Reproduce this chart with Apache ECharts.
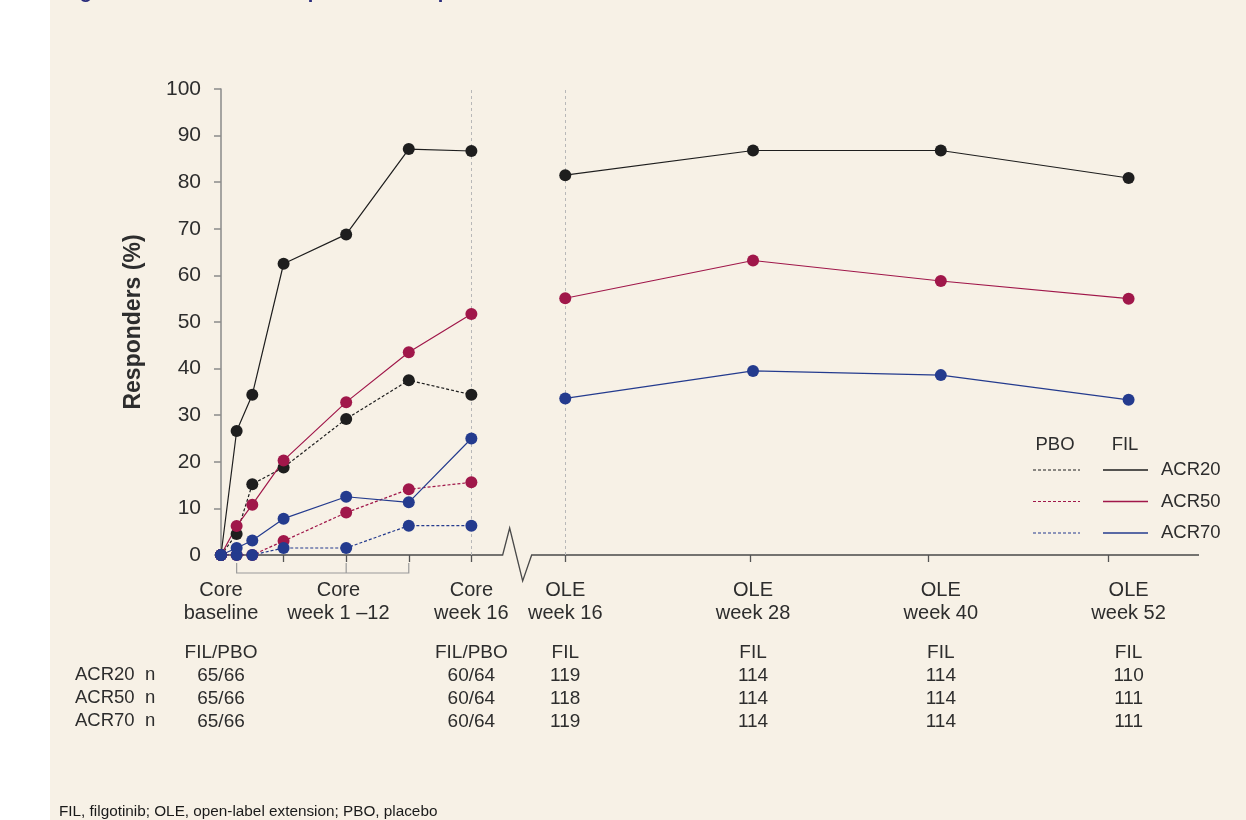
<!DOCTYPE html>
<html>
<head>
<meta charset="utf-8">
<script src="https://cdn.jsdelivr.net/npm/echarts@6/dist/echarts.min.js"></script>
<style>
  html, body { margin: 0; padding: 0; background: #fff; }
  #main { width: 1246px; height: 820px; }
</style>
</head>
<body>
<div id="main"></div>
<script>
// time points (weeks); OLE weeks are drawn shifted right of the core period
var coreWeeks = [0, 1, 2, 4, 8, 12, 16];
var oleWeeks = [16, 28, 40, 52];
var oleShift = 6;

var filAcr20Core = [0, 26.6, 34.4, 62.5, 68.8, 87.1, 86.7];
var filAcr50Core = [0, 6.2, 10.8, 20.3, 32.8, 43.5, 51.7];
var filAcr70Core = [0, 1.5, 3.1, 7.8, 12.5, 11.3, 25.0];
var pboAcr20Core = [0, 4.5, 15.2, 18.8, 29.2, 37.5, 34.4];
var pboAcr50Core = [0, 0, 0, 3.0, 9.1, 14.1, 15.6];
var pboAcr70Core = [0, 0, 0, 1.5, 1.5, 6.3, 6.3];

var filAcr20Ole = [81.5, 86.8, 86.8, 80.9];
var filAcr50Ole = [55.1, 63.2, 58.8, 55.0];
var filAcr70Ole = [33.6, 39.5, 38.6, 33.3];

// x-axis labels and the n table under them
var labelPos = [0, 7.5, 16, 22, 34, 46, 58];
var labelTop = ['Core', 'Core', 'Core', 'OLE', 'OLE', 'OLE', 'OLE'];
var labelBottom = ['baseline', 'week 1 \u201312', 'week 16', 'week 16', 'week 28', 'week 40', 'week 52'];
var nHeader = ['FIL/PBO', '', 'FIL/PBO', 'FIL', 'FIL', 'FIL', 'FIL'];
var nAcr20 = ['65/66', '', '60/64', '119', '114', '114', '110'];
var nAcr50 = ['65/66', '', '60/64', '118', '114', '114', '111'];
var nAcr70 = ['65/66', '', '60/64', '119', '114', '114', '111'];
var tickPos = [4, 8, 12, 16, 22, 33.8, 45.2, 56.7];

var BLACK = '#1e1e1e', RED = '#a0174a', BLUE = '#243b8e';
var TXT = '#2d2d2d';
var FONT = '"Liberation Sans", Arial, sans-serif';

function corePairs(vals) {
  return coreWeeks.map(function (w, i) { return [w, vals[i]]; });
}
function filPairs(core, ole) {
  var d = corePairs(core);
  d.push([16.5, null]);
  oleWeeks.forEach(function (w, i) { d.push([w + oleShift, ole[i]]); });
  return d;
}
function mk(name, data, color, dashed) {
  return {
    name: name, type: 'line', data: data, z: 3,
    symbol: 'circle', symbolSize: 12, connectNulls: false,
    lineStyle: { color: color, width: 1.2, type: dashed ? [3, 2] : 'solid' },
    itemStyle: { color: color },
    emphasis: { disabled: true }, animation: false
  };
}

var el = document.getElementById('main');
var myChart = echarts.init(el);

var series = [
  {
    type: 'line', data: [], z: 1, silent: true,
    markLine: {
      silent: true, symbol: 'none', animation: false, z: 1,
      label: { show: false },
      lineStyle: { color: '#b8b8b8', width: 1, type: [3, 3] },
      data: [{ xAxis: 16 }, { xAxis: 16 + oleShift }]
    }
  },
  mk('PBO ACR20', corePairs(pboAcr20Core), BLACK, true),
  mk('FIL ACR20', filPairs(filAcr20Core, filAcr20Ole), BLACK, false),
  mk('PBO ACR50', corePairs(pboAcr50Core), RED, true),
  mk('FIL ACR50', filPairs(filAcr50Core, filAcr50Ole), RED, false),
  mk('PBO ACR70', corePairs(pboAcr70Core), BLUE, true),
  mk('FIL ACR70', filPairs(filAcr70Core, filAcr70Ole), BLUE, false)
];

myChart.setOption({
  backgroundColor: '#f7f1e6',
  animation: false,
  grid: { left: 221, right: 47, top: 89, bottom: 265 },
  xAxis: {
    type: 'value', min: 0, max: 62.5,
    splitLine: { show: false },
    axisLine: { show: false },
    axisTick: { show: true, customValues: tickPos, length: 7, lineStyle: { color: '#555', width: 1.3 } },
    axisLabel: {
      customValues: labelPos, margin: 24, color: TXT,
      fontFamily: FONT, fontSize: 20, lineHeight: 23,
      formatter: function (v) {
        var i = labelPos.indexOf(v);
        if (i < 0) return '';
        var s = labelTop[i] + '\n' + labelBottom[i];
        if (nHeader[i]) {
          s += '\n{g| }\n{n|' + nHeader[i] + '}\n{n|' + nAcr20[i] + '}\n{n|' + nAcr50[i] + '}\n{n|' + nAcr70[i] + '}';
        }
        return s;
      },
      rich: {
        g: { fontSize: 4, lineHeight: 16 },
        n: { fontSize: 19, lineHeight: 23, color: TXT, fontFamily: FONT }
      }
    }
  },
  yAxis: {
    type: 'value', min: 0, max: 100, interval: 10,
    splitLine: { show: false },
    axisLine: { show: true, lineStyle: { color: '#8a8a8a', width: 1.5 } },
    axisTick: { show: true, length: 7, lineStyle: { color: '#8a8a8a', width: 1.5 } },
    axisLabel: { color: TXT, fontFamily: FONT, fontSize: 21, margin: 20 },
    name: 'Responders (%)', nameLocation: 'middle', nameGap: 76,
    nameTextStyle: { color: TXT, fontFamily: FONT, fontSize: 23, fontWeight: 'bold' }
  },
  series: series
});

// decorations positioned from the axes
function px(x, y) { return myChart.convertToPixel({ gridIndex: 0 }, [x, y]); }
var o = px(0, 0), end = px(62.5, 0), brk = px(18, 0);
var y0 = o[1];
var g = [];
g.push({ type: 'rect', shape: { x: 0, y: 0, width: 50, height: 820 }, style: { fill: '#fff' }, silent: true });
g.push({
  type: 'polyline', silent: true,
  shape: { points: [[o[0] - 6, y0], [brk[0], y0], [brk[0] + 7, y0 - 27], [brk[0] + 20, y0 + 26], [brk[0] + 29, y0], [end[0], y0]] },
  style: { stroke: '#4a4a4a', lineWidth: 1.3, fill: null }
});
// bracket under core weeks 1-12
var b1 = px(1, 0)[0], b2 = px(12, 0)[0], bm = px(8, 0)[0];
g.push({
  type: 'polyline', silent: true,
  shape: { points: [[b1, y0 + 8], [b1, y0 + 18], [b2, y0 + 18], [b2, y0 + 8]] },
  style: { stroke: '#9a9a9a', lineWidth: 1.2, fill: null }
});
g.push({ type: 'line', silent: true, shape: { x1: bm, y1: y0 + 8, x2: bm, y2: y0 + 18 }, style: { stroke: '#9a9a9a', lineWidth: 1.2 } });

// row labels of the n table
['ACR20', 'ACR50', 'ACR70'].forEach(function (t, i) {
  g.push({ type: 'text', silent: true, x: 75, y: 675 + i * 23,
    style: { text: t + '  n', fill: TXT, font: '18.5px ' + FONT, verticalAlign: 'middle' } });
});

// legend
g.push({ type: 'text', silent: true, x: 1055, y: 445, style: { text: 'PBO', fill: TXT, font: '18.5px ' + FONT, align: 'center', verticalAlign: 'middle' } });
g.push({ type: 'text', silent: true, x: 1125, y: 445, style: { text: 'FIL', fill: TXT, font: '18.5px ' + FONT, align: 'center', verticalAlign: 'middle' } });
[['ACR20', BLACK], ['ACR50', RED], ['ACR70', BLUE]].forEach(function (r, i) {
  var yy = 470 + i * 31.5;
  g.push({ type: 'line', silent: true, shape: { x1: 1033, y1: yy, x2: 1080, y2: yy }, style: { stroke: r[1], lineWidth: 1.2, lineDash: [3, 2] } });
  g.push({ type: 'line', silent: true, shape: { x1: 1103, y1: yy, x2: 1148, y2: yy }, style: { stroke: r[1], lineWidth: 1.3 } });
  g.push({ type: 'text', silent: true, x: 1161, y: yy, style: { text: r[0], fill: TXT, font: '18.5px ' + FONT, verticalAlign: 'middle' } });
});

// cut-off title and footnote
g.push({ type: 'text', silent: true, x: 62, y: 2,
  style: { text: 'Figure 2. ACR20/50/70 response rates up to OLE week 52', fill: '#2b2d7c', font: 'bold 20px ' + FONT, verticalAlign: 'bottom' } });
g.push({ type: 'text', silent: true, x: 59, y: 812,
  style: { text: 'FIL, filgotinib; OLE, open-label extension; PBO, placebo', fill: '#1a1a1a', font: '15.3px ' + FONT, verticalAlign: 'middle' } });

myChart.setOption({ graphic: g });
</script>
</body>
</html>
